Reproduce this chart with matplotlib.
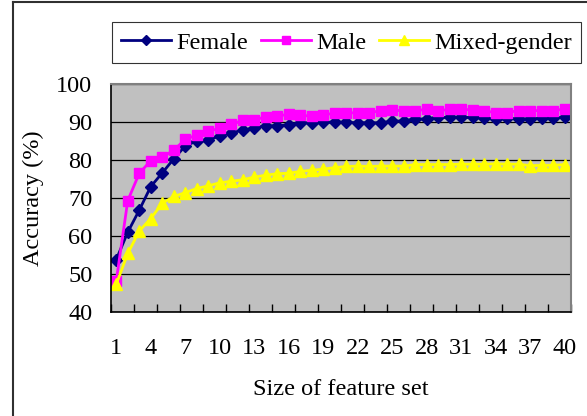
import matplotlib
matplotlib.use("Agg")
import matplotlib.pyplot as plt
from matplotlib.lines import Line2D

# feature set sizes 1..40
sizes = list(range(1, 41))

female = [53.8, 61.0, 66.8, 73.0, 76.6, 80.3, 83.7, 85.0, 85.3, 86.3,
          87.2, 87.8, 88.5, 89.0, 89.0, 89.3, 89.8, 89.8, 89.9, 90.0,
          89.9, 89.8, 89.8, 89.8, 90.2, 90.3, 90.8, 90.8, 91.2, 91.2,
          91.2, 91.2, 91.0, 90.8, 91.0, 90.8, 90.8, 91.0, 91.0, 91.3]
male = [48.2, 69.3, 76.5, 79.8, 80.7, 82.6, 85.4, 86.6, 87.6, 88.3,
        89.4, 90.4, 90.6, 91.3, 91.6, 92.0, 91.8, 91.5, 91.9, 92.3,
        92.3, 92.5, 92.5, 92.9, 93.2, 92.9, 93.0, 93.3, 93.0, 93.3,
        93.3, 93.2, 92.9, 92.5, 92.5, 93.0, 93.0, 93.0, 93.0, 93.4]
mixed = [47.3, 55.4, 61.3, 64.6, 68.6, 70.4, 71.4, 72.5, 73.2, 74.0,
         74.4, 74.8, 75.5, 76.0, 76.4, 76.5, 77.0, 77.3, 77.6, 78.0,
         78.3, 78.4, 78.3, 78.4, 78.4, 78.4, 78.8, 78.8, 78.8, 78.8,
         78.9, 78.9, 78.9, 79.0, 78.9, 78.9, 78.5, 78.6, 78.6, 78.8]

xtick_vals = list(range(1, 41, 3))
ytick_vals = list(range(40, 101, 10))

plt.rcParams['font.family'] = ['Liberation Serif', 'DejaVu Serif']
fs = 17.5

fig = plt.figure(figsize=(5.87, 4.16), dpi=100)
W, H = 587, 416
ax = fig.add_axes([110.5 / W, 1 - 312 / H, 460 / W, 228 / H])

ax.set_facecolor('#C0C0C0')
ax.plot(sizes, female, color='#000080', marker='D', markersize=6.5, linewidth=2, label='Female')
ax.plot(sizes, male, color='#FF00FF', marker='s', markersize=7.5, linewidth=2, label='Male')
ax.plot(sizes, mixed, color='#FFFF00', marker='^', markersize=8.5, linewidth=2, label='Mixed-gender')

ax.set_xlim(0.5, 40.5)
ax.set_ylim(40, 100)
ax.set_yticks(ytick_vals)
ax.yaxis.grid(True, color='black', linewidth=0.9)
ax.set_axisbelow(True)
ax.tick_params(axis='y', length=0, labelsize=fs, pad=13)

ax.set_xticks(xtick_vals)
ax.set_xticks([x + 0.5 for x in range(0, 41, 2)], minor=True)
ax.tick_params(axis='x', which='major', length=0, labelsize=fs, pad=19)
ax.tick_params(axis='x', which='minor', direction='in', length=6, width=1)

ax.set_xlabel('Size of feature set', fontsize=fs, labelpad=14)
ax.set_ylabel('Accuracy (%)', fontsize=fs, labelpad=9)

for side in ['left', 'bottom']:
    ax.spines[side].set_color('black')
    ax.spines[side].set_linewidth(1.2)
for side in ['top', 'right']:
    ax.spines[side].set_color('#808080')
    ax.spines[side].set_linewidth(1.5)

leg = fig.legend(loc='upper center', bbox_to_anchor=(346.5 / W, 1 - 22 / H),
                 ncol=3, fontsize=fs, frameon=True, fancybox=False,
                 edgecolor='black', handlelength=2.05, borderpad=0.4, columnspacing=0.55,
                 handletextpad=0.2, markerscale=0.8, borderaxespad=0)
leg.get_frame().set_linewidth(0.8)

# chart area border (left and top edges visible)
fig.add_artist(Line2D([13 / W, 13 / W], [0, 1 - 2 / H], transform=fig.transFigure,
                      color='#303030', linewidth=1.5))
fig.add_artist(Line2D([13 / W, 1], [1 - 2 / H, 1 - 2 / H], transform=fig.transFigure,
                      color='#303030', linewidth=1.5))

fig.savefig('out.png', dpi=100)
